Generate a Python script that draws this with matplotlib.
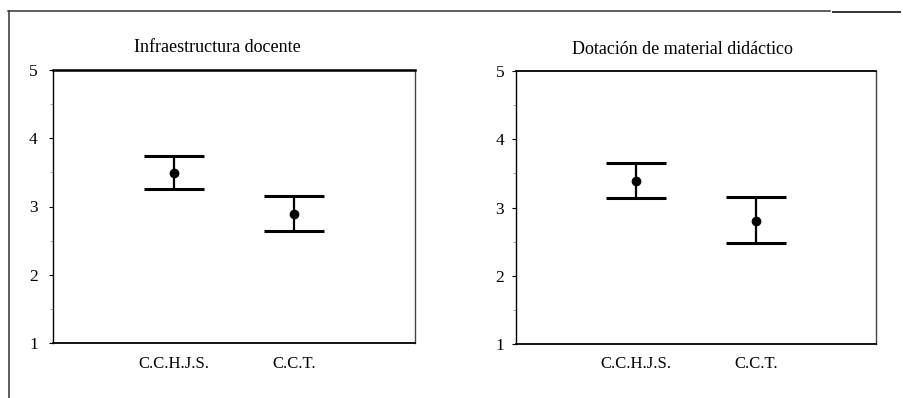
import numpy as np
import matplotlib
matplotlib.use("Agg")
import matplotlib.pyplot as plt
from matplotlib.lines import Line2D

plt.rcParams['font.family'] = ['Liberation Serif', 'DejaVu Serif']

groups = ["C.C.H.J.S.", "C.C.T."]
titles = ["Infraestructura docente", "Dotación de material didáctico"]

# means and interval limits
mean_infra = [3.49, 2.89]
low_infra = [3.26, 2.64]
high_infra = [3.74, 3.16]

mean_mat = [3.39, 2.80]
low_mat = [3.14, 2.48]
high_mat = [3.65, 3.16]

yticks = [1, 2, 3, 4, 5]

fig = plt.figure(figsize=(9.04, 3.98), dpi=100)

# outer frame lines of the scanned page
fig.add_artist(Line2D([8/904, 830/904], [1-11/398, 1-11/398], color="#333333", lw=1.1))
fig.add_artist(Line2D([833/904, 900/904], [1-12/398, 1-12/398], color="#333333", lw=1.4))
fig.add_artist(Line2D([9/904, 9/904], [1-11/398, 0], color="#333333", lw=1.1))

panels = [
    ([53/904, 1-343/398, 362/904, 273/398], titles[0], mean_infra, low_infra, high_infra, 0.453, 23, 8),
    ([516/904, 1-344/398, 360/904, 273/398], titles[1], mean_mat, low_mat, high_mat, 0.461, 21, 5.5),
]

for rect, title, mean, low, high, tx, ty, ypad in panels:
    ax = fig.add_axes(rect)
    x = np.arange(1, len(groups) + 1)
    mean = np.array(mean)
    yerr = [mean - np.array(low), np.array(high) - mean]
    ax.errorbar(x, mean, yerr=yerr, fmt="o", color="black", ms=6,
                elinewidth=1.6, capsize=21.5, capthick=2.2)
    ax.set_xlim(0, 3)
    ax.set_ylim(1, 5)
    ax.set_yticks(yticks)
    ax.set_yticks(np.arange(1.5, 5, 0.5), minor=True)
    ax.set_xticks(x)
    ax.set_xticklabels(groups, fontsize=12)
    ax.tick_params(axis="x", length=0, pad=9)
    ax.tick_params(axis="y", which="major", length=3, width=0.8, pad=ypad, labelsize=12.5)
    ax.tick_params(axis="y", which="minor", length=2, width=0.5, color="#888888")
    ax.spines["left"].set_linewidth(1.0)
    ax.spines["bottom"].set_linewidth(1.3)
    ax.spines["top"].set_linewidth(1.8 if tx < 0.46 else 1.3)
    ax.spines["right"].set_linewidth(1.0)
    ax.spines["right"].set_color("#444444")
    ax.text(tx, 1 + ty/273, title, transform=ax.transAxes, ha="center", va="center", fontsize=13)

fig.savefig("out.png", dpi=100)
